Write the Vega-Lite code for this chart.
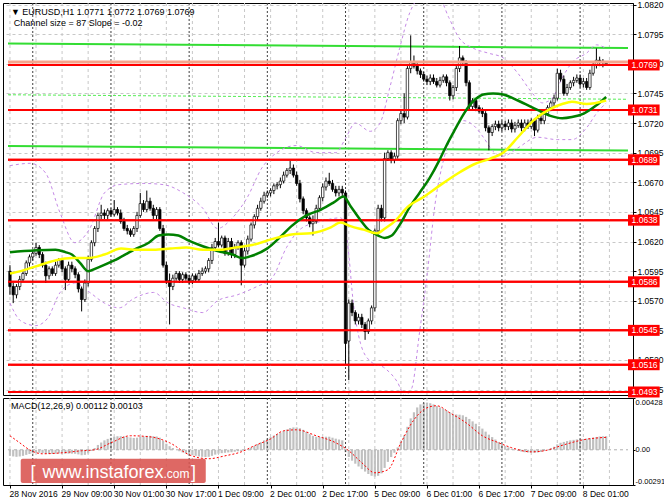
{
"$schema": "https://vega.github.io/schema/vega-lite/v6.json",
"background": "#ffffff",
"padding": {"left": 2, "top": 0, "right": 0, "bottom": 0},
"spacing": 3,
"bounds": "flush",
"config": {"view": {"stroke": "#000000", "strokeWidth": 1}, "font": "Liberation Sans",
 "axis": {"labelFont": "Liberation Sans", "labelFontSize": 8.5, "labelColor": "#000000", "tickColor": "#000000", "domainColor": "#000000", "tickSize": 3, "labelPadding": 1, "labelOverlap": false, "labelBound": false, "gridColor": "#c8c8c8", "gridDash": [3, 3]}},
"datasets": {
"ohlc": [
{"i":0,"o":1.0595,"h":1.0600,"l":1.0575,"c":1.0582,"m":-0.0005},
{"i":1,"o":1.0582,"h":1.0585,"l":1.0568,"c":1.0575,"m":-0.00055},
{"i":2,"o":1.0575,"h":1.0584,"l":1.0572,"c":1.0582,"m":-0.00058},
{"i":3,"o":1.0582,"h":1.0591,"l":1.0579,"c":1.0588,"m":-0.00055},
{"i":4,"o":1.0588,"h":1.0596,"l":1.0586,"c":1.0593,"m":-0.0005},
{"i":5,"o":1.0593,"h":1.0604,"l":1.0591,"c":1.0602,"m":-0.00042},
{"i":6,"o":1.0602,"h":1.0609,"l":1.0599,"c":1.0607,"m":-0.00035},
{"i":7,"o":1.0607,"h":1.0613,"l":1.0604,"c":1.0610,"m":-0.0003},
{"i":8,"o":1.0610,"h":1.0619,"l":1.0608,"c":1.0615,"m":-0.00025},
{"i":9,"o":1.0615,"h":1.0617,"l":1.0606,"c":1.0609,"m":-0.00025},
{"i":10,"o":1.0609,"h":1.0611,"l":1.0598,"c":1.0600,"m":-0.00028},
{"i":11,"o":1.0600,"h":1.0603,"l":1.0585,"c":1.0591,"m":-0.00033},
{"i":12,"o":1.0591,"h":1.0599,"l":1.0588,"c":1.0597,"m":-0.00035},
{"i":13,"o":1.0597,"h":1.0599,"l":1.0591,"c":1.0593,"m":-0.00035},
{"i":14,"o":1.0593,"h":1.0603,"l":1.0591,"c":1.0600,"m":-0.00033},
{"i":15,"o":1.0600,"h":1.0606,"l":1.0598,"c":1.0604,"m":-0.0003},
{"i":16,"o":1.0604,"h":1.0606,"l":1.0594,"c":1.0597,"m":-0.0003},
{"i":17,"o":1.0597,"h":1.0599,"l":1.0579,"c":1.0588,"m":-0.00033},
{"i":18,"o":1.0588,"h":1.0603,"l":1.0586,"c":1.0600,"m":-0.00032},
{"i":19,"o":1.0600,"h":1.0603,"l":1.0594,"c":1.0597,"m":-0.00032},
{"i":20,"o":1.0597,"h":1.0599,"l":1.0589,"c":1.0592,"m":-0.00033},
{"i":21,"o":1.0592,"h":1.0594,"l":1.0577,"c":1.0580,"m":-0.00038},
{"i":22,"o":1.0580,"h":1.0582,"l":1.0561,"c":1.0571,"m":-0.00045},
{"i":23,"o":1.0571,"h":1.0588,"l":1.0569,"c":1.0585,"m":-0.00042},
{"i":24,"o":1.0585,"h":1.0608,"l":1.0582,"c":1.0605,"m":-0.0003},
{"i":25,"o":1.0605,"h":1.0621,"l":1.0603,"c":1.0619,"m":-0.0001},
{"i":26,"o":1.0619,"h":1.0633,"l":1.0616,"c":1.0631,"m":0.00015},
{"i":27,"o":1.0631,"h":1.0644,"l":1.0628,"c":1.0642,"m":0.0004},
{"i":28,"o":1.0642,"h":1.0651,"l":1.0639,"c":1.0644,"m":0.0006},
{"i":29,"o":1.0644,"h":1.0647,"l":1.0639,"c":1.0642,"m":0.00078},
{"i":30,"o":1.0642,"h":1.0648,"l":1.0639,"c":1.0646,"m":0.0009},
{"i":31,"o":1.0646,"h":1.0648,"l":1.0641,"c":1.0643,"m":0.001},
{"i":32,"o":1.0643,"h":1.0655,"l":1.0641,"c":1.0647,"m":0.00108},
{"i":33,"o":1.0647,"h":1.0649,"l":1.0642,"c":1.0644,"m":0.00112},
{"i":34,"o":1.0644,"h":1.0647,"l":1.0635,"c":1.0637,"m":0.00112},
{"i":35,"o":1.0637,"h":1.0640,"l":1.0629,"c":1.0631,"m":0.0011},
{"i":36,"o":1.0631,"h":1.0634,"l":1.0626,"c":1.0629,"m":0.00106},
{"i":37,"o":1.0629,"h":1.0631,"l":1.0624,"c":1.0626,"m":0.00102},
{"i":38,"o":1.0626,"h":1.0633,"l":1.0624,"c":1.0631,"m":0.00098},
{"i":39,"o":1.0631,"h":1.0645,"l":1.0628,"c":1.0642,"m":0.001},
{"i":40,"o":1.0642,"h":1.0661,"l":1.0640,"c":1.0652,"m":0.00108},
{"i":41,"o":1.0652,"h":1.0655,"l":1.0645,"c":1.0647,"m":0.0011},
{"i":42,"o":1.0647,"h":1.0663,"l":1.0645,"c":1.0654,"m":0.00115},
{"i":43,"o":1.0654,"h":1.0657,"l":1.0646,"c":1.0648,"m":0.00115},
{"i":44,"o":1.0648,"h":1.0651,"l":1.0639,"c":1.0642,"m":0.00112},
{"i":45,"o":1.0642,"h":1.0649,"l":1.0639,"c":1.0647,"m":0.0011},
{"i":46,"o":1.0647,"h":1.0649,"l":1.0629,"c":1.0631,"m":0.001},
{"i":47,"o":1.0631,"h":1.0634,"l":1.0598,"c":1.0600,"m":0.00075},
{"i":48,"o":1.0600,"h":1.0603,"l":1.0584,"c":1.0587,"m":0.0005},
{"i":49,"o":1.0587,"h":1.0593,"l":1.0550,"c":1.0582,"m":0.0003},
{"i":50,"o":1.0582,"h":1.0592,"l":1.0579,"c":1.0589,"m":0.00015},
{"i":51,"o":1.0589,"h":1.0595,"l":1.0587,"c":1.0593,"m":0.0},
{"i":52,"o":1.0593,"h":1.0595,"l":1.0585,"c":1.0588,"m":-0.00012},
{"i":53,"o":1.0588,"h":1.0594,"l":1.0585,"c":1.0592,"m":-0.00022},
{"i":54,"o":1.0592,"h":1.0594,"l":1.0587,"c":1.0589,"m":-0.0003},
{"i":55,"o":1.0589,"h":1.0592,"l":1.0584,"c":1.0587,"m":-0.00038},
{"i":56,"o":1.0587,"h":1.0593,"l":1.0584,"c":1.0591,"m":-0.00045},
{"i":57,"o":1.0591,"h":1.0593,"l":1.0586,"c":1.0588,"m":-0.0005},
{"i":58,"o":1.0588,"h":1.0596,"l":1.0586,"c":1.0593,"m":-0.00055},
{"i":59,"o":1.0593,"h":1.0598,"l":1.0591,"c":1.0595,"m":-0.00058},
{"i":60,"o":1.0595,"h":1.0599,"l":1.0593,"c":1.0597,"m":-0.0006},
{"i":61,"o":1.0597,"h":1.0606,"l":1.0594,"c":1.0604,"m":-0.00058},
{"i":62,"o":1.0604,"h":1.0618,"l":1.0601,"c":1.0615,"m":-0.0005},
{"i":63,"o":1.0615,"h":1.0623,"l":1.0613,"c":1.0620,"m":-0.0004},
{"i":64,"o":1.0620,"h":1.0636,"l":1.0615,"c":1.0617,"m":-0.00032},
{"i":65,"o":1.0617,"h":1.0625,"l":1.0615,"c":1.0623,"m":-0.00028},
{"i":66,"o":1.0623,"h":1.0625,"l":1.0608,"c":1.0610,"m":-0.00025},
{"i":67,"o":1.0610,"h":1.0623,"l":1.0608,"c":1.0620,"m":-0.00022},
{"i":68,"o":1.0620,"h":1.0623,"l":1.0606,"c":1.0609,"m":-0.0002},
{"i":69,"o":1.0609,"h":1.0618,"l":1.0606,"c":1.0615,"m":-0.00016},
{"i":70,"o":1.0615,"h":1.0621,"l":1.0613,"c":1.0619,"m":-0.00012},
{"i":71,"o":1.0619,"h":1.0621,"l":1.0583,"c":1.0600,"m":-0.00012},
{"i":72,"o":1.0600,"h":1.0615,"l":1.0598,"c":1.0612,"m":-0.00005},
{"i":73,"o":1.0612,"h":1.0625,"l":1.0609,"c":1.0622,"m":0.00005},
{"i":74,"o":1.0622,"h":1.0636,"l":1.0620,"c":1.0634,"m":0.00018},
{"i":75,"o":1.0634,"h":1.0643,"l":1.0631,"c":1.0641,"m":0.00032},
{"i":76,"o":1.0641,"h":1.0651,"l":1.0638,"c":1.0648,"m":0.00048},
{"i":77,"o":1.0648,"h":1.0657,"l":1.0646,"c":1.0654,"m":0.00062},
{"i":78,"o":1.0654,"h":1.0662,"l":1.0652,"c":1.0659,"m":0.00078},
{"i":79,"o":1.0659,"h":1.0663,"l":1.0657,"c":1.0661,"m":0.00092},
{"i":80,"o":1.0661,"h":1.0665,"l":1.0658,"c":1.0663,"m":0.00105},
{"i":81,"o":1.0663,"h":1.0669,"l":1.0660,"c":1.0667,"m":0.00118},
{"i":82,"o":1.0667,"h":1.0670,"l":1.0664,"c":1.0668,"m":0.0013},
{"i":83,"o":1.0668,"h":1.0674,"l":1.0665,"c":1.0671,"m":0.00142},
{"i":84,"o":1.0671,"h":1.0679,"l":1.0669,"c":1.0676,"m":0.00155},
{"i":85,"o":1.0676,"h":1.0682,"l":1.0674,"c":1.0680,"m":0.00168},
{"i":86,"o":1.0680,"h":1.0688,"l":1.0677,"c":1.0682,"m":0.0018},
{"i":87,"o":1.0682,"h":1.0685,"l":1.0674,"c":1.0676,"m":0.00185},
{"i":88,"o":1.0676,"h":1.0679,"l":1.0667,"c":1.0669,"m":0.00185},
{"i":89,"o":1.0669,"h":1.0672,"l":1.0653,"c":1.0656,"m":0.00178},
{"i":90,"o":1.0656,"h":1.0658,"l":1.0643,"c":1.0646,"m":0.00165},
{"i":91,"o":1.0646,"h":1.0648,"l":1.0637,"c":1.0640,"m":0.00148},
{"i":92,"o":1.0640,"h":1.0642,"l":1.0632,"c":1.0635,"m":0.0013},
{"i":93,"o":1.0635,"h":1.0642,"l":1.0625,"c":1.0637,"m":0.00115},
{"i":94,"o":1.0637,"h":1.0651,"l":1.0635,"c":1.0648,"m":0.00108},
{"i":95,"o":1.0648,"h":1.0659,"l":1.0646,"c":1.0657,"m":0.00105},
{"i":96,"o":1.0657,"h":1.0669,"l":1.0654,"c":1.0666,"m":0.00105},
{"i":97,"o":1.0666,"h":1.0674,"l":1.0663,"c":1.0671,"m":0.00108},
{"i":98,"o":1.0671,"h":1.0678,"l":1.0667,"c":1.0669,"m":0.00108},
{"i":99,"o":1.0669,"h":1.0672,"l":1.0662,"c":1.0664,"m":0.001},
{"i":100,"o":1.0664,"h":1.0667,"l":1.0658,"c":1.0661,"m":0.00092},
{"i":101,"o":1.0661,"h":1.0667,"l":1.0658,"c":1.0664,"m":0.00085},
{"i":102,"o":1.0664,"h":1.0667,"l":1.0658,"c":1.0661,"m":0.00078},
{"i":103,"o":1.0661,"h":1.0663,"l":1.0517,"c":1.0534,"m":-0.0002},
{"i":104,"o":1.0536,"h":1.0571,"l":1.0503,"c":1.0568,"m":-0.0006},
{"i":105,"o":1.0568,"h":1.0571,"l":1.0557,"c":1.0560,"m":-0.0009},
{"i":106,"o":1.0560,"h":1.0562,"l":1.0550,"c":1.0553,"m":-0.00115},
{"i":107,"o":1.0553,"h":1.0559,"l":1.0550,"c":1.0556,"m":-0.00138},
{"i":108,"o":1.0556,"h":1.0559,"l":1.0547,"c":1.0550,"m":-0.0016},
{"i":109,"o":1.0550,"h":1.0552,"l":1.0537,"c":1.0544,"m":-0.0018},
{"i":110,"o":1.0544,"h":1.0555,"l":1.0542,"c":1.0553,"m":-0.002},
{"i":111,"o":1.0553,"h":1.0566,"l":1.0550,"c":1.0564,"m":-0.00215},
{"i":112,"o":1.0564,"h":1.0631,"l":1.0561,"c":1.0629,"m":-0.00222},
{"i":113,"o":1.0629,"h":1.0651,"l":1.0626,"c":1.0648,"m":-0.00215},
{"i":114,"o":1.0648,"h":1.0651,"l":1.0637,"c":1.0640,"m":-0.00195},
{"i":115,"o":1.0640,"h":1.0695,"l":1.0637,"c":1.0690,"m":-0.0015},
{"i":116,"o":1.0690,"h":1.0697,"l":1.0688,"c":1.0695,"m":-0.001},
{"i":117,"o":1.0695,"h":1.0697,"l":1.0686,"c":1.0689,"m":-0.0006},
{"i":118,"o":1.0689,"h":1.0695,"l":1.0686,"c":1.0692,"m":-0.00025},
{"i":119,"o":1.0692,"h":1.0724,"l":1.0690,"c":1.0722,"m":0.0002},
{"i":120,"o":1.0722,"h":1.0731,"l":1.0719,"c":1.0728,"m":0.0007},
{"i":121,"o":1.0728,"h":1.0745,"l":1.0720,"c":1.0725,"m":0.0012},
{"i":122,"o":1.0725,"h":1.0768,"l":1.0723,"c":1.0766,"m":0.0019},
{"i":123,"o":1.0766,"h":1.0794,"l":1.0762,"c":1.0771,"m":0.0026},
{"i":124,"o":1.0771,"h":1.0777,"l":1.0766,"c":1.0768,"m":0.0031},
{"i":125,"o":1.0768,"h":1.0771,"l":1.0761,"c":1.0764,"m":0.0035},
{"i":126,"o":1.0764,"h":1.0766,"l":1.0758,"c":1.0761,"m":0.00375},
{"i":127,"o":1.0761,"h":1.0763,"l":1.0755,"c":1.0757,"m":0.00385},
{"i":128,"o":1.0757,"h":1.0760,"l":1.0752,"c":1.0755,"m":0.0039},
{"i":129,"o":1.0755,"h":1.0761,"l":1.0752,"c":1.0758,"m":0.00385},
{"i":130,"o":1.0758,"h":1.0761,"l":1.0753,"c":1.0755,"m":0.00375},
{"i":131,"o":1.0755,"h":1.0758,"l":1.0750,"c":1.0752,"m":0.00362},
{"i":132,"o":1.0752,"h":1.0759,"l":1.0750,"c":1.0756,"m":0.0035},
{"i":133,"o":1.0756,"h":1.0761,"l":1.0754,"c":1.0759,"m":0.00338},
{"i":134,"o":1.0759,"h":1.0761,"l":1.0751,"c":1.0754,"m":0.00325},
{"i":135,"o":1.0754,"h":1.0756,"l":1.0739,"c":1.0743,"m":0.0031},
{"i":136,"o":1.0743,"h":1.0752,"l":1.0740,"c":1.0750,"m":0.00298},
{"i":137,"o":1.0750,"h":1.0768,"l":1.0747,"c":1.0766,"m":0.00292},
{"i":138,"o":1.0766,"h":1.0785,"l":1.0763,"c":1.0775,"m":0.0029},
{"i":139,"o":1.0775,"h":1.0777,"l":1.0768,"c":1.0771,"m":0.00285},
{"i":140,"o":1.0771,"h":1.0773,"l":1.0751,"c":1.0754,"m":0.00272},
{"i":141,"o":1.0754,"h":1.0756,"l":1.0731,"c":1.0734,"m":0.00255},
{"i":142,"o":1.0734,"h":1.0741,"l":1.0731,"c":1.0739,"m":0.00235},
{"i":143,"o":1.0739,"h":1.0741,"l":1.0730,"c":1.0733,"m":0.00215},
{"i":144,"o":1.0733,"h":1.0735,"l":1.0728,"c":1.0730,"m":0.00195},
{"i":145,"o":1.0730,"h":1.0733,"l":1.0725,"c":1.0728,"m":0.00175},
{"i":146,"o":1.0728,"h":1.0730,"l":1.0713,"c":1.0716,"m":0.0015},
{"i":147,"o":1.0716,"h":1.0718,"l":1.0697,"c":1.0712,"m":0.00125},
{"i":148,"o":1.0712,"h":1.0719,"l":1.0709,"c":1.0717,"m":0.00105},
{"i":149,"o":1.0717,"h":1.0722,"l":1.0714,"c":1.0719,"m":0.00085},
{"i":150,"o":1.0719,"h":1.0722,"l":1.0713,"c":1.0716,"m":0.00065},
{"i":151,"o":1.0716,"h":1.0722,"l":1.0713,"c":1.0719,"m":0.00048},
{"i":152,"o":1.0719,"h":1.0722,"l":1.0714,"c":1.0717,"m":0.00032},
{"i":153,"o":1.0717,"h":1.0723,"l":1.0714,"c":1.0720,"m":0.0002},
{"i":154,"o":1.0720,"h":1.0723,"l":1.0712,"c":1.0715,"m":0.00008},
{"i":155,"o":1.0715,"h":1.0721,"l":1.0712,"c":1.0718,"m":-0.00002},
{"i":156,"o":1.0718,"h":1.0723,"l":1.0716,"c":1.0720,"m":-0.0001},
{"i":157,"o":1.0720,"h":1.0723,"l":1.0713,"c":1.0716,"m":-0.00015},
{"i":158,"o":1.0716,"h":1.0723,"l":1.0713,"c":1.0720,"m":-0.0002},
{"i":159,"o":1.0720,"h":1.0723,"l":1.0715,"c":1.0717,"m":-0.00022},
{"i":160,"o":1.0717,"h":1.0724,"l":1.0715,"c":1.0722,"m":-0.00024},
{"i":161,"o":1.0722,"h":1.0724,"l":1.0709,"c":1.0714,"m":-0.00025},
{"i":162,"o":1.0714,"h":1.0727,"l":1.0712,"c":1.0724,"m":-0.00022},
{"i":163,"o":1.0724,"h":1.0727,"l":1.0719,"c":1.0722,"m":-0.00018},
{"i":164,"o":1.0722,"h":1.0731,"l":1.0719,"c":1.0728,"m":-0.0001},
{"i":165,"o":1.0728,"h":1.0735,"l":1.0726,"c":1.0733,"m":0.0},
{"i":166,"o":1.0733,"h":1.0739,"l":1.0730,"c":1.0737,"m":0.00012},
{"i":167,"o":1.0737,"h":1.0744,"l":1.0734,"c":1.0741,"m":0.00025},
{"i":168,"o":1.0741,"h":1.0766,"l":1.0739,"c":1.0762,"m":0.00045},
{"i":169,"o":1.0762,"h":1.0765,"l":1.0755,"c":1.0757,"m":0.00058},
{"i":170,"o":1.0757,"h":1.0760,"l":1.0743,"c":1.0745,"m":0.00065},
{"i":171,"o":1.0745,"h":1.0753,"l":1.0743,"c":1.0750,"m":0.00072},
{"i":172,"o":1.0750,"h":1.0756,"l":1.0748,"c":1.0754,"m":0.00078},
{"i":173,"o":1.0754,"h":1.0759,"l":1.0751,"c":1.0756,"m":0.00082},
{"i":174,"o":1.0756,"h":1.0761,"l":1.0754,"c":1.0758,"m":0.00086},
{"i":175,"o":1.0758,"h":1.0761,"l":1.0750,"c":1.0753,"m":0.00088},
{"i":176,"o":1.0753,"h":1.0758,"l":1.0750,"c":1.0755,"m":0.0009},
{"i":177,"o":1.0755,"h":1.0758,"l":1.0748,"c":1.0750,"m":0.00092},
{"i":178,"o":1.0750,"h":1.0765,"l":1.0748,"c":1.0762,"m":0.00096},
{"i":179,"o":1.0762,"h":1.0771,"l":1.0760,"c":1.0769,"m":0.001},
{"i":180,"o":1.0769,"h":1.0783,"l":1.0766,"c":1.0773,"m":0.00106},
{"i":181,"o":1.0773,"h":1.0776,"l":1.0768,"c":1.0771,"m":0.0011},
{"i":182,"o":1.0771,"h":1.0774,"l":1.0767,"c":1.0772,"m":0.00112},
{"i":183,"o":1.0771,"h":1.0772,"l":1.0769,"c":1.0769,"m":0.00112}
],
"gma": [{"i":0,"v":1.0611},{"i":14,"v":1.0613},{"i":17,"v":1.0611},{"i":19,"v":1.0609},{"i":21.5,"v":1.0602},{"i":24,"v":1.0595},{"i":27,"v":1.0598},{"i":32,"v":1.0604},{"i":38,"v":1.0613},{"i":42.6,"v":1.0619},{"i":45.6,"v":1.0625},{"i":48.6,"v":1.0626},{"i":51.7,"v":1.0625},{"i":54.7,"v":1.0621},{"i":59.2,"v":1.0616},{"i":63.7,"v":1.0612},{"i":68.3,"v":1.0609},{"i":71.3,"v":1.0606},{"i":74.3,"v":1.0608},{"i":78.9,"v":1.0614},{"i":83.4,"v":1.0625},{"i":86.4,"v":1.0633},{"i":91,"v":1.0642},{"i":95.5,"v":1.0647},{"i":99.4,"v":1.0653},{"i":102.4,"v":1.0658},{"i":104.5,"v":1.065},{"i":107.6,"v":1.0638},{"i":110,"v":1.063},{"i":113,"v":1.0625},{"i":115,"v":1.0623},{"i":117.2,"v":1.0625},{"i":119.6,"v":1.0634},{"i":122.7,"v":1.0649},{"i":125.7,"v":1.0661},{"i":128.7,"v":1.0673},{"i":131.7,"v":1.0688},{"i":133.8,"v":1.07},{"i":136.3,"v":1.0713},{"i":138.7,"v":1.0725},{"i":140.8,"v":1.0734},{"i":142.9,"v":1.074},{"i":145.3,"v":1.0744},{"i":148.3,"v":1.0745},{"i":151.4,"v":1.0744},{"i":155.9,"v":1.0739},{"i":161.9,"v":1.0731},{"i":165.9,"v":1.0726},{"i":169.5,"v":1.0724},{"i":172.5,"v":1.0725},{"i":176.1,"v":1.0728},{"i":180,"v":1.0735},{"i":183,"v":1.0742}],
"yma": [{"i":0,"v":1.0593},{"i":3.3,"v":1.0595},{"i":7.9,"v":1.0599},{"i":13.9,"v":1.0604},{"i":19,"v":1.0606},{"i":23.9,"v":1.0606},{"i":29,"v":1.0609},{"i":34.1,"v":1.0614},{"i":39,"v":1.0613},{"i":44.1,"v":1.0613},{"i":49.2,"v":1.0614},{"i":54.1,"v":1.0615},{"i":59.2,"v":1.0613},{"i":64.4,"v":1.0613},{"i":69.2,"v":1.0615},{"i":74.3,"v":1.0617},{"i":80.4,"v":1.0622},{"i":86.4,"v":1.0626},{"i":92.4,"v":1.0627},{"i":98.5,"v":1.0632},{"i":101.5,"v":1.0636},{"i":104.5,"v":1.0633},{"i":108.5,"v":1.063},{"i":112.7,"v":1.0627},{"i":115.1,"v":1.0631},{"i":118.1,"v":1.0637},{"i":122,"v":1.0649},{"i":127.2,"v":1.0658},{"i":132.3,"v":1.0668},{"i":137.2,"v":1.0677},{"i":142.3,"v":1.0685},{"i":147.4,"v":1.069},{"i":151.4,"v":1.0695},{"i":155.9,"v":1.0708},{"i":161,"v":1.0723},{"i":165.9,"v":1.0732},{"i":169.5,"v":1.0736},{"i":172.5,"v":1.0738},{"i":177,"v":1.0736},{"i":183,"v":1.0739}],
"bands": [
{"b":"u","i":0,"v":1.0684},{"b":"u","i":6.3,"v":1.0686},{"b":"u","i":10.9,"v":1.0678},{"b":"u","i":15.4,"v":1.0644},{"b":"u","i":19.9,"v":1.0619},{"b":"u","i":24.5,"v":1.0631},{"b":"u","i":29,"v":1.0661},{"b":"u","i":33.5,"v":1.0668},{"b":"u","i":41.1,"v":1.0669},{"b":"u","i":47.1,"v":1.0668},{"b":"u","i":53.2,"v":1.0661},{"b":"u","i":59.2,"v":1.0648},{"b":"u","i":63.7,"v":1.0631},{"b":"u","i":68.3,"v":1.064},{"b":"u","i":72.8,"v":1.0657},{"b":"u","i":77.3,"v":1.0682},{"b":"u","i":81.9,"v":1.0695},{"b":"u","i":87.9,"v":1.0701},{"b":"u","i":94,"v":1.0695},{"b":"u","i":100,"v":1.0695},{"b":"u","i":103,"v":1.0707},{"b":"u","i":106,"v":1.072},{"b":"u","i":110.6,"v":1.0713},{"b":"u","i":113.6,"v":1.072},{"b":"u","i":116.6,"v":1.075},{"b":"u","i":119.6,"v":1.0783},{"b":"u","i":122.7,"v":1.0813},{"b":"u","i":125.7,"v":1.0825},{"b":"u","i":131.7,"v":1.0825},{"b":"u","i":134.7,"v":1.0809},{"b":"u","i":137.8,"v":1.0792},{"b":"u","i":142.3,"v":1.0783},{"b":"u","i":146.8,"v":1.0779},{"b":"u","i":151.4,"v":1.0775},{"b":"u","i":155.9,"v":1.0762},{"b":"u","i":160.4,"v":1.0745},{"b":"u","i":163.4,"v":1.0737},{"b":"u","i":166.5,"v":1.0741},{"b":"u","i":169.5,"v":1.0758},{"b":"u","i":172.5,"v":1.0771},{"b":"u","i":177,"v":1.0779},{"b":"u","i":180,"v":1.0786},{"b":"u","i":183,"v":1.0783},
{"b":"l","i":0,"v":1.0568},{"b":"l","i":3.3,"v":1.0553},{"b":"l","i":7.9,"v":1.0549},{"b":"l","i":11.5,"v":1.0555},{"b":"l","i":15.4,"v":1.0577},{"b":"l","i":19.9,"v":1.0585},{"b":"l","i":24.5,"v":1.0577},{"b":"l","i":29,"v":1.0568},{"b":"l","i":33.5,"v":1.0564},{"b":"l","i":38.1,"v":1.0572},{"b":"l","i":44.1,"v":1.0577},{"b":"l","i":48.6,"v":1.0568},{"b":"l","i":53.2,"v":1.0564},{"b":"l","i":59.2,"v":1.056},{"b":"l","i":63.7,"v":1.057},{"b":"l","i":69.8,"v":1.0575},{"b":"l","i":75.8,"v":1.0582},{"b":"l","i":80.4,"v":1.0589},{"b":"l","i":84.9,"v":1.0615},{"b":"l","i":89.4,"v":1.0631},{"b":"l","i":95.5,"v":1.0637},{"b":"l","i":101.5,"v":1.064},{"b":"l","i":103.6,"v":1.0619},{"b":"l","i":105.4,"v":1.0568},{"b":"l","i":107.6,"v":1.0534},{"b":"l","i":110.6,"v":1.0519},{"b":"l","i":115.1,"v":1.0513},{"b":"l","i":119,"v":1.0501},{"b":"l","i":121.1,"v":1.049},{"b":"l","i":123.3,"v":1.0496},{"b":"l","i":125.7,"v":1.0543},{"b":"l","i":128.1,"v":1.0593},{"b":"l","i":130.5,"v":1.0652},{"b":"l","i":133.2,"v":1.069},{"b":"l","i":136.3,"v":1.0713},{"b":"l","i":139.3,"v":1.0722},{"b":"l","i":142.3,"v":1.0718},{"b":"l","i":145.3,"v":1.0708},{"b":"l","i":148.3,"v":1.0696},{"b":"l","i":151.4,"v":1.0692},{"b":"l","i":155.9,"v":1.0699},{"b":"l","i":161.9,"v":1.0708},{"b":"l","i":168,"v":1.0706},{"b":"l","i":172.5,"v":1.0706},{"b":"l","i":177,"v":1.0716},{"b":"l","i":180,"v":1.0728},{"b":"l","i":183,"v":1.0737}
],
"channel": [{"k":"top","i":-0.6,"v":1.07871},{"k":"top","i":189.7,"v":1.07833},{"k":"bottom","i":-0.6,"v":1.07006},{"k":"bottom","i":189.7,"v":1.06968}],
"chmid": [{"i":-0.6,"v":1.074385},{"i":189.7,"v":1.074005}],
"levels": [{"v":1.0769},{"v":1.0731},{"v":1.0689},{"v":1.0638},{"v":1.0586},{"v":1.0545},{"v":1.0516},{"v":1.0493}],
"signal": [{"i":0,"s":0.00116},{"i":3,"s":0.00058},{"i":6,"s":0.0},{"i":10,"s":-0.00033},{"i":16,"s":-0.00025},{"i":22,"s":-0.00008},{"i":26,"s":0.0},{"i":31,"s":0.00058},{"i":37,"s":0.00116},{"i":43,"s":0.00107},{"i":49,"s":0.00058},{"i":55,"s":-0.00041},{"i":61,"s":-0.00074},{"i":66,"s":-0.0005},{"i":71,"s":-0.00017},{"i":75,"s":0.00033},{"i":80,"s":0.0009},{"i":84,"s":0.00157},{"i":88,"s":0.00165},{"i":94,"s":0.00116},{"i":100,"s":0.00058},{"i":104,"s":-0.00008},{"i":108,"s":-0.00107},{"i":112,"s":-0.0019},{"i":116,"s":-0.00165},{"i":120,"s":0.00058},{"i":124,"s":0.00248},{"i":128,"s":0.00347},{"i":131,"s":0.00364},{"i":135,"s":0.00306},{"i":140,"s":0.00223},{"i":145,"s":0.00116},{"i":150,"s":0.00058},{"i":154,"s":0.00017},{"i":160,"s":-0.00017},{"i":164,"s":-0.00008},{"i":170,"s":0.00041},{"i":176,"s":0.00083},{"i":183,"s":0.00103}],
"vgrid": [{"i":0},{"i":8},{"i":16},{"i":24},{"i":32},{"i":40},{"i":48},{"i":56},{"i":64},{"i":72},{"i":80},{"i":88},{"i":96},{"i":104},{"i":112},{"i":120},{"i":128},{"i":136},{"i":144},{"i":152},{"i":160},{"i":168},{"i":176},{"i":184}],
"days": [{"i":7},{"i":31},{"i":55},{"i":79},{"i":103},{"i":127},{"i":151},{"i":175}]
},
"vconcat": [
{
"width": 630,
"height": 392,
"layer": [
{"data": {"name": "levels"}, "mark": {"type": "rule", "color": "#ff0000", "strokeWidth": 2},
 "encoding": {"x": {"datum": -0.6, "type": "quantitative", "scale": {"domain": [-0.6, 189.7], "nice": false, "zero": false}, "axis": null}, "x2": {"datum": 189.7},
  "y": {"field": "v", "type": "quantitative", "scale": {"domain": [1.049045, 1.08213], "nice": false, "zero": false},
  "axis": {"orient": "right", "values": [1.0495, 1.052, 1.0545, 1.057, 1.0595, 1.062, 1.0645, 1.067, 1.0695, 1.072, 1.0745, 1.077, 1.0795, 1.082], "tickCount": 40, "format": ".4f", "title": null, "grid": true, "labelFlush": true}}}},
{"data": {"name": "vgrid"}, "mark": {"type": "rule", "color": "#c8c8c8", "strokeDash": [3, 3], "strokeWidth": 1},
 "encoding": {"x": {"field": "i", "type": "quantitative", "axis": null}}},
{"data": {"name": "days"}, "mark": {"type": "rule", "color": "#404040", "strokeDash": [2, 2], "strokeWidth": 1},
 "encoding": {"x": {"field": "i", "type": "quantitative", "axis": null}}},
{"data": {"name": "channel"}, "mark": {"type": "line", "color": "#33dd33", "strokeWidth": 2},
 "encoding": {"x": {"field": "i", "type": "quantitative", "axis": null}, "y": {"field": "v", "type": "quantitative"}, "detail": {"field": "k", "type": "nominal"}}},
{"data": {"name": "chmid"}, "mark": {"type": "line", "color": "#55ee55", "strokeWidth": 1, "strokeDash": [3, 2]},
 "encoding": {"x": {"field": "i", "type": "quantitative", "axis": null}, "y": {"field": "v", "type": "quantitative"}}},
{"data": {"name": "bands"}, "mark": {"type": "line", "color": "#c58ae6", "strokeWidth": 1, "strokeDash": [3, 3], "interpolate": "monotone", "clip": true},
 "encoding": {"x": {"field": "i", "type": "quantitative", "axis": null}, "y": {"field": "v", "type": "quantitative"}, "detail": {"field": "b", "type": "nominal"}}},
{"data": {"name": "ohlc"}, "mark": {"type": "rule", "color": "#000000", "strokeWidth": 1},
 "encoding": {"x": {"field": "i", "type": "quantitative", "axis": null}, "y": {"field": "l", "type": "quantitative"}, "y2": {"field": "h"}}},
{"data": {"name": "ohlc"}, "mark": {"type": "bar", "width": 2.4, "stroke": "#000000", "strokeWidth": 0.7},
 "encoding": {"x": {"field": "i", "type": "quantitative", "axis": null}, "y": {"field": "o", "type": "quantitative"}, "y2": {"field": "c"},
  "fill": {"condition": {"test": "datum.c >= datum.o", "value": "#ffffff"}, "value": "#000000"}}},
{"data": {"values": [{}]}, "mark": {"type": "rule", "color": "#f6a48c", "strokeWidth": 3},
 "encoding": {"x": {"datum": -0.6, "type": "quantitative", "axis": null}, "x2": {"datum": 189.7}, "y": {"datum": 1.07714, "type": "quantitative"}}},
{"data": {"name": "levels"}, "mark": {"type": "rule", "color": "#ff0000", "strokeWidth": 2},
 "encoding": {"x": {"datum": -0.6, "type": "quantitative", "axis": null}, "x2": {"datum": 189.7}, "y": {"field": "v", "type": "quantitative"}}},
{"data": {"name": "gma"}, "mark": {"type": "line", "color": "#008000", "strokeWidth": 2.5, "interpolate": "monotone"},
 "encoding": {"x": {"field": "i", "type": "quantitative", "axis": null}, "y": {"field": "v", "type": "quantitative"}}},
{"data": {"name": "yma"}, "mark": {"type": "line", "color": "#ffff00", "strokeWidth": 2.5, "interpolate": "monotone"},
 "encoding": {"x": {"field": "i", "type": "quantitative", "axis": null}, "y": {"field": "v", "type": "quantitative"}}},
{"data": {"name": "levels"}, "mark": {"type": "rule", "color": "#ff0000", "strokeWidth": 11, "strokeCap": "butt"},
 "encoding": {"x": {"datum": 189.7, "type": "quantitative", "axis": null}, "x2": {"datum": 199.4}, "y": {"field": "v", "type": "quantitative"}}},
{"data": {"name": "levels"}, "mark": {"type": "text", "color": "#ffffff", "align": "left", "baseline": "middle", "font": "Liberation Sans", "fontSize": 8.5},
 "encoding": {"x": {"datum": 190.8, "type": "quantitative", "axis": null}, "y": {"field": "v", "type": "quantitative"},
  "text": {"field": "v", "type": "quantitative", "format": ".4f"}}},
{"data": {"values": [{}]}, "mark": {"type": "text", "color": "#000000", "align": "left", "baseline": "middle", "font": "Liberation Sans", "fontSize": 9},
 "encoding": {"x": {"datum": 0.3, "type": "quantitative", "axis": null}, "y": {"datum": 1.08137, "type": "quantitative"},
  "text": {"value": "▼ EURUSD,H1  1.0771 1.0772 1.0769 1.0769"}}},
{"data": {"values": [{}]}, "mark": {"type": "text", "color": "#000000", "align": "left", "baseline": "middle", "font": "Liberation Sans", "fontSize": 9},
 "encoding": {"x": {"datum": 1.2, "type": "quantitative", "axis": null}, "y": {"datum": 1.08044, "type": "quantitative"},
  "text": {"value": "Channel size = 87 Slope = -0.02"}}}
]
},
{
"width": 630,
"height": 87,
"layer": [
{"data": {"name": "ohlc"}, "mark": {"type": "bar", "width": 2.2, "color": "#c0c0c0"},
 "encoding": {"x": {"field": "i", "type": "quantitative", "scale": {"domain": [-0.6, 189.7], "nice": false, "zero": false},
   "axis": {"orient": "bottom", "values": [0, 16, 32, 48, 64, 80, 96, 112, 128, 144, 160, 176], "tickCount": 40, "labelExpr": "['28 Nov 2016','29 Nov 09:00','30 Nov 01:00','30 Nov 17:00','1 Dec 09:00','2 Dec 01:00','2 Dec 17:00','5 Dec 09:00','6 Dec 01:00','6 Dec 17:00','7 Dec 09:00','8 Dec 01:00'][round(datum.value/16)]", "labelAlign": "left", "labelOffset": -1, "labelFlush": false, "domain": false, "grid": false, "title": null}},
  "y": {"field": "m", "type": "quantitative", "scale": {"domain": [-0.00291, 0.00428], "nice": false, "zero": false},
   "axis": {"orient": "right", "values": [-0.00291, 0, 0.00428], "labelExpr": "datum.value > 0.001 ? '0.00428' : (datum.value < -0.001 ? '-0.00291' : '0.00')", "title": null, "grid": false, "labelFlush": true, "labelFontSize": 7.5, "tickSize": 2, "labelPadding": 0}},
  "y2": {"datum": 0}}},
{"data": {"name": "vgrid"}, "mark": {"type": "rule", "color": "#c8c8c8", "strokeDash": [3, 3], "strokeWidth": 1},
 "encoding": {"x": {"field": "i", "type": "quantitative"}}},
{"data": {"name": "days"}, "mark": {"type": "rule", "color": "#404040", "strokeDash": [2, 2], "strokeWidth": 1},
 "encoding": {"x": {"field": "i", "type": "quantitative"}}},
{"data": {"values": [{}]}, "mark": {"type": "rule", "color": "#b0b0b0", "strokeDash": [3, 3], "strokeWidth": 1},
 "encoding": {"x": {"datum": -0.6, "type": "quantitative"}, "x2": {"datum": 189.7}, "y": {"datum": 0, "type": "quantitative"}}},
{"data": {"name": "signal"}, "mark": {"type": "line", "color": "#ff0000", "strokeWidth": 1, "strokeDash": [2, 2], "interpolate": "monotone"},
 "encoding": {"x": {"field": "i", "type": "quantitative"}, "y": {"field": "s", "type": "quantitative"}}},
{"data": {"values": [{}]}, "mark": {"type": "rect", "color": "#d9534f", "opacity": 0.88, "cornerRadius": 2},
 "encoding": {"x": {"datum": 3.3, "type": "quantitative"}, "x2": {"datum": 60.1},
  "y": {"datum": -0.00074, "type": "quantitative"}, "y2": {"datum": -0.00275}}},
{"data": {"values": [{}]}, "mark": {"type": "text", "color": "#ffffff", "align": "left", "baseline": "alphabetic", "font": "Liberation Sans", "fontSize": 18},
 "encoding": {"x": {"datum": 6.3, "type": "quantitative"}, "y": {"datum": -0.00231, "type": "quantitative"}, "text": {"value": "["}}},
{"data": {"values": [{}]}, "mark": {"type": "text", "color": "#ffffff", "align": "left", "baseline": "alphabetic", "font": "Liberation Sans", "fontSize": 18},
 "encoding": {"x": {"datum": 10.0, "type": "quantitative"}, "y": {"datum": -0.00231, "type": "quantitative"}, "text": {"value": "www.instaforex"}}},
{"data": {"values": [{}]}, "mark": {"type": "text", "color": "#ffffff", "align": "left", "baseline": "alphabetic", "font": "Liberation Sans", "fontSize": 12},
 "encoding": {"x": {"datum": 47.1, "type": "quantitative"}, "y": {"datum": -0.00231, "type": "quantitative"}, "text": {"value": ".com"}}},
{"data": {"values": [{}]}, "mark": {"type": "text", "color": "#ffffff", "align": "left", "baseline": "alphabetic", "font": "Liberation Sans", "fontSize": 18},
 "encoding": {"x": {"datum": 55.6, "type": "quantitative"}, "y": {"datum": -0.00231, "type": "quantitative"}, "text": {"value": "]"}}},
{"data": {"values": [{}]}, "mark": {"type": "text", "color": "#000000", "align": "left", "baseline": "middle", "font": "Liberation Sans", "fontSize": 9},
 "encoding": {"x": {"datum": 0.3, "type": "quantitative"}, "y": {"datum": 0.00362, "type": "quantitative"}, "text": {"value": "MACD(12,26,9) 0.00112 0.00103"}}}
]
}
]
}
